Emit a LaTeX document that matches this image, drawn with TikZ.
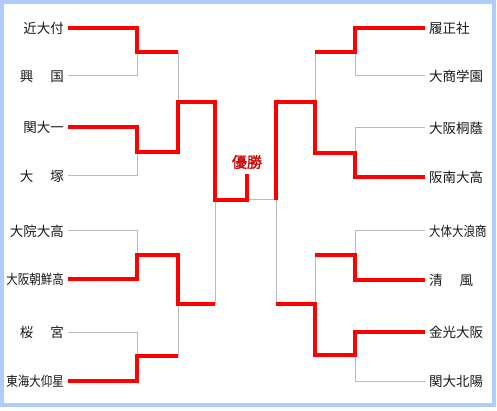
\documentclass[tikz,border=0pt]{standalone}
\usepackage{fontspec}
\newfontfamily\jpfont{Noto Sans CJK JP}
\newfontfamily\jpbold[FakeBold=1.5]{Noto Sans CJK JP}
\usepackage{xcolor}
\usepackage{tikz}
\usetikzlibrary{positioning,calc}

\definecolor{winred}{RGB}{255,0,0}
\definecolor{losegray}{RGB}{187,187,187}
\definecolor{frameblue}{RGB}{176,204,248}
\definecolor{titlered}{RGB}{204,0,0}

\newcommand{\spread}[2]{#1\hspace{17pt}#2}
\newcommand{\squeeze}[1]{\scalebox{0.85}[1]{#1}}

\begin{document}
\begin{tikzpicture}[
    x=1pt, y=-1pt,
    team/.style = {
        font=\jpfont\fontsize{13.5}{14}\selectfont,
        text=black!90,
        inner xsep=4pt,
        inner ysep=1pt
    },
    lteam/.style = {team, anchor=east},
    rteam/.style = {team, anchor=west},
    title/.style = {font=\jpbold\fontsize{15}{16}\selectfont, text=titlered, inner sep=0pt},
    win/.style   = {draw=winred, line width=4pt, line join=miter},
    lose/.style  = {draw=losegray, line width=1pt},
    frame/.style = {draw=frameblue, line width=4pt}
]

% Canvas and frame
\useasboundingbox[fill=white] (0,0) rectangle (497,411);
\draw[frame] (2,2) rectangle (494,405);

% Left side teams
\node[lteam] (L1) at (68,28)  {近大付};
\node[lteam] (L2) at (68,76)  {\spread{興}{国}};
\node[lteam] (L3) at (68,127) {関大一};
\node[lteam] (L4) at (68,176) {\spread{大}{塚}};
\node[lteam] (L5) at (68,231) {大院大高};
\node[lteam] (L6) at (68,279) {\squeeze{大阪朝鮮高}};
\node[lteam] (L7) at (68,332) {\spread{桜}{宮}};
\node[lteam] (L8) at (68,381) {\squeeze{東海大仰星}};

% Right side teams
\node[rteam] (R1) at (425,28)  {履正社};
\node[rteam] (R2) at (425,76)  {大商学園};
\node[rteam] (R3) at (425,128) {大阪桐蔭};
\node[rteam] (R4) at (425,177) {阪南大高};
\node[rteam] (R5) at (425,231) {\squeeze{大体大浪商}};
\node[rteam] (R6) at (425,280) {\spread{清}{風}};
\node[rteam] (R7) at (425,332) {金光大阪};
\node[rteam] (R8) at (425,381) {関大北陽};

% Title
\node[title] (yusho) at (247,162) {優勝};

% Junctions
\coordinate (a1) at (137,52);
\coordinate (a2) at (137,152);
\coordinate (a3) at (137,255);
\coordinate (a4) at (137,356);
\coordinate (b1) at (178,102);
\coordinate (b2) at (178,304);
\coordinate (c1) at (215,200);
\coordinate (fl) at (247,200);
\coordinate (top) at (247,174);
\coordinate (fr) at (276,200);
\coordinate (d1) at (355,52);
\coordinate (d2) at (355,153);
\coordinate (d3) at (355,255);
\coordinate (d4) at (355,355);
\coordinate (e1) at (315,102);
\coordinate (e2) at (315,304);

% Losers - thin gray
\draw[lose] (L2.east) -| (a1);
\draw[lose] (L4.east) -| (a2);
\draw[lose] (L5.east) -| (a3);
\draw[lose] (L7.east) -| (a4);
\draw[lose] (a1 -| b1) -- (b1);
\draw[lose] (a4 -| b2) -- (b2);
\draw[lose] (b2 -| c1) -- (c1);
\draw[lose] (fl) -- (fr);
\draw[lose] (fr) -- (e2 -| fr);
\draw[lose] (d1 -| e1) -- (e1);
\draw[lose] (d3 -| e2) -- (e2);
\draw[lose] (R2.west) -| (d1);
\draw[lose] (R3.west) -| (d2);
\draw[lose] (R5.west) -| (d3);
\draw[lose] (R8.west) -| (d4);

% Winners - thick red, left side
\draw[win] (L1.east) -| (a1) -- (a1 -| b1);
\draw[win] (L3.east) -| (a2) -- (a2 -| b1) -- (b1) -- (b1 -| c1) -- (c1) -- (fl) -- (top);
\draw[win] (L6.east) -| (a3) -- (a3 -| b2) -- (b2) -- (b2 -| c1);
\draw[win] (L8.east) -| (a4) -- (a4 -| b2);

% Winners - thick red, right side
\draw[win] (R1.west) -| (d1) -- (d1 -| e1);
\draw[win] (R4.west) -| (d2) -- (d2 -| e1) -- (e1) -- (e1 -| fr) -- (fr);
\draw[win] (R6.west) -| (d3) -- (d3 -| e2);
\draw[win] (R7.west) -| (d4) -- (d4 -| e2) -- (e2) -- (e2 -| fr);

\end{tikzpicture}
\end{document}
